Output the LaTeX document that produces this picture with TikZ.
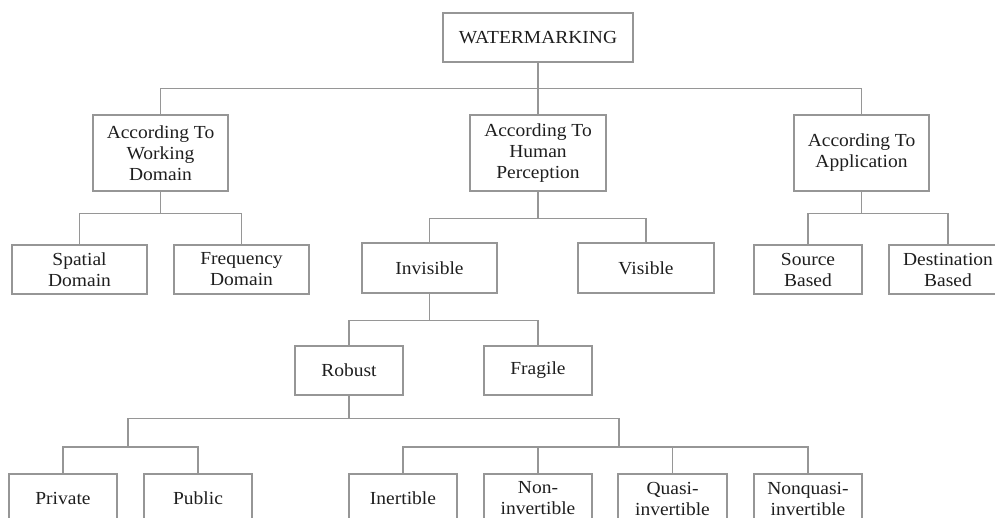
\documentclass[tikz,border=0pt]{standalone}
\usepackage{fontspec}
\setmainfont{Liberation Serif}[FakeStretch=1.06]
\definecolor{linegray}{RGB}{150,150,150}
\definecolor{textgray}{RGB}{30,30,30}
\begin{document}
\begin{tikzpicture}[x=1pt,y=-1pt,
  box/.style={draw=linegray, line width=1.1pt, rectangle, inner sep=0pt,
    align=center, text=textgray, minimum height=#1,
    font=\fontsize{18.4}{21}\selectfont},
  box/.default=49pt,
  conn/.style={draw=linegray, line width=1.1pt}]
\useasboundingbox (0,0) rectangle (995,518);
\clip (0,0) rectangle (995,518);
\fill[white] (0,0) rectangle (995,518);
% level 0
\node[box, minimum width=190pt] (wm) at (538,37.5) {WATERMARKING};
% level 1
\node[box=76pt, minimum width=135pt] (wd) at (160.5,153) {According To\\Working\\Domain};
\node[box=76pt, minimum width=136pt] (hp) at (538,153) {According To\\Human\\Perception};
\node[box=76pt, minimum width=135pt] (ap) at (861.5,153) {According To\\Application};
% level 2
\node[box, minimum width=135pt] (sd) at (79.5,269.5) {Spatial\\Domain};
\node[box, minimum width=135pt] (fd) at (241.5,269.5) {Frequency\\Domain};
\node[box=50pt, minimum width=135pt] (inv) at (429.5,268) {Invisible};
\node[box=50pt, minimum width=136pt] (vis) at (646,268) {Visible};
\node[box, minimum width=108pt] (sb) at (808,269.5) {Source\\Based};
\node[box, minimum width=118pt] (db) at (948,269.5) {Destination\\Based};
% level 3
\node[box, minimum width=108pt] (rob) at (349,370.5) {Robust};
\node[box, minimum width=108pt] (fra) at (538,370.5) {Fragile};
% level 4
\node[box, minimum width=108pt] (pri) at (63,498.5) {Private};
\node[box, minimum width=108pt] (pub) at (198,498.5) {Public};
\node[box, minimum width=108pt] (ine) at (403,498.5) {Inertible};
\node[box, minimum width=108pt] (non) at (538,498.5) {Non-\\invertible};
\node[box, minimum width=109pt] (qua) at (672.5,498.5) {Quasi-\\invertible};
\node[box, minimum width=108pt] (nqu) at (808,498.5) {Nonquasi-\\invertible};
% junctions
\coordinate (jl) at (128,418);
\coordinate (jr) at (619,418);
% connectors
\foreach \c in {wd,hp,ap} \draw[conn] (wm.south) -- ++(0,26) -| (\c.north);
\foreach \c in {sd,fd} \draw[conn] (wd.south) -- ++(0,22) -| (\c.north);
\foreach \c in {inv,vis} \draw[conn] (hp.south) -- ++(0,27) -| (\c.north);
\foreach \c in {sb,db} \draw[conn] (ap.south) -- ++(0,22) -| (\c.north);
\foreach \c in {rob,fra} \draw[conn] (inv.south) -- ++(0,27) -| (\c.north);
\foreach \c in {jl,jr} \draw[conn] (rob.south) -- ++(0,23) -| (\c);
\foreach \c in {pri,pub} \draw[conn] (jl) -- ++(0,29) -| (\c.north);
\foreach \c in {ine,non,qua,nqu} \draw[conn] (jr) -- ++(0,29) -| (\c.north);
\end{tikzpicture}
\end{document}
